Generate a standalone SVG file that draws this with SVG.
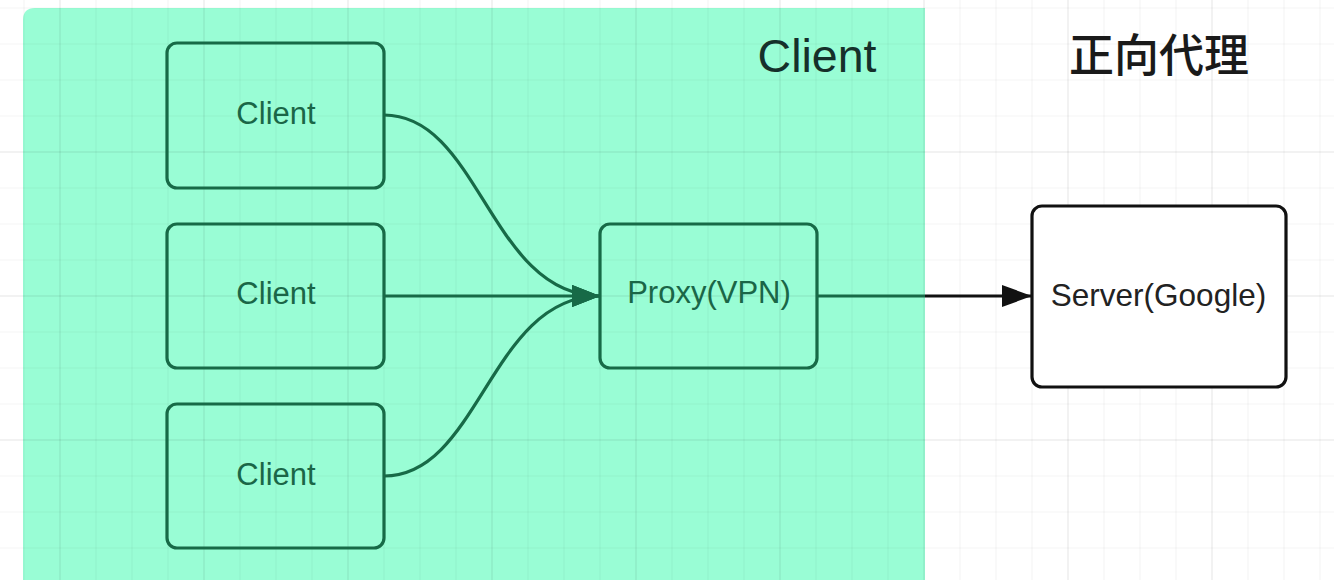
<svg xmlns="http://www.w3.org/2000/svg" width="1334" height="580" viewBox="0 0 1334 580">
<defs>
<style>
.grid{stroke:#000;stroke-opacity:0.04;stroke-width:1.2}
.major{stroke:#000;stroke-opacity:0.07;stroke-width:1.5}
.gbox{fill:none;stroke:#176a47;stroke-width:3.2}
.wbox{fill:#fff;stroke:#111;stroke-width:3.2}
.gtxt{font-family:"Liberation Sans",Arial,sans-serif;font-size:31px;fill:#1a6647;text-anchor:middle}
.btxt{font-family:"Liberation Sans",Arial,sans-serif;font-size:31.5px;fill:#222;text-anchor:middle}
.gline{fill:none;stroke:#176a47;stroke-width:3.2}
.bline{fill:none;stroke:#111;stroke-width:3.2}
</style>
<marker id="ag" markerUnits="userSpaceOnUse" markerWidth="30" markerHeight="24" refX="28" refY="12" orient="auto">
<path d="M0,1 L28,12 L0,23 Z" fill="#176a47"/>
</marker>
<marker id="ab" markerUnits="userSpaceOnUse" markerWidth="32" markerHeight="24" refX="30" refY="12" orient="auto">
<path d="M0,1 L30,12 L0,23 Z" fill="#111"/>
</marker>
</defs>
<rect width="1334" height="580" fill="#fff"/>
<g id="container">
<path d="M23,20 Q23,8 35,8 L925,8 L925,580 L23,580 Z" fill="#99fdd5"/>
</g>
<g id="grid">
<path class="grid" d="M24,0V580M96,0V580M132,0V580M168,0V580M240,0V580M276,0V580M312,0V580M384,0V580M420,0V580M456,0V580M528,0V580M564,0V580M600,0V580M672,0V580M708,0V580M744,0V580M816,0V580M852,0V580M888,0V580M960,0V580M996,0V580M1032,0V580M1104,0V580M1140,0V580M1176,0V580M1248,0V580M1284,0V580M1320,0V580"/>
<path class="major" d="M60,0V580M204,0V580M348,0V580M492,0V580M636,0V580M780,0V580M924,0V580M1068,0V580M1212,0V580"/>
<path class="grid" d="M0,8H1334M0,44H1334M0,80H1334M0,116H1334M0,188H1334M0,224H1334M0,260H1334M0,332H1334M0,368H1334M0,404H1334M0,476H1334M0,512H1334M0,548H1334"/>
<path class="major" d="M0,152H1334M0,296H1334M0,440H1334"/>
</g>
<g id="connectors">
<path class="gline" d="M384,115 C480,115 490,296 600,296" marker-end="url(#ag)"/>
<path class="gline" d="M384,296 L600,296" marker-end="url(#ag)"/>
<path class="gline" d="M384,476 C480,476 490,296 600,296" marker-end="url(#ag)"/>
<path class="gline" d="M817,296 L925,296"/>
<path class="bline" d="M925,296 L1032,296" marker-end="url(#ab)"/>
</g>
<g id="client1">
<rect class="gbox" x="167" y="43" width="217" height="145" rx="10"/>
<text class="gtxt" x="276" y="124">Client</text>
</g>
<g id="client2">
<rect class="gbox" x="167" y="224" width="217" height="144" rx="10"/>
<text class="gtxt" x="276" y="304">Client</text>
</g>
<g id="client3">
<rect class="gbox" x="167" y="404" width="217" height="144" rx="10"/>
<text class="gtxt" x="276" y="485">Client</text>
</g>
<g id="proxy">
<rect class="gbox" x="600" y="224" width="217" height="144" rx="10"/>
<text class="gtxt" x="709" y="303">Proxy(VPN)</text>
</g>
<g id="server">
<rect class="wbox" x="1032" y="206" width="254" height="181" rx="10"/>
<text class="btxt" x="1158.5" y="306">Server(Google)</text>
</g>
<g id="labels">
<text x="817" y="72" font-family="'Liberation Sans',Arial,sans-serif" font-size="46.5" fill="#15302a" text-anchor="middle">Client</text>
<text x="1159" y="72" font-family="'Noto Sans CJK SC',sans-serif" font-size="45" font-weight="500" fill="#1a1a1a" text-anchor="middle">正向代理</text>
</g>
</svg>
